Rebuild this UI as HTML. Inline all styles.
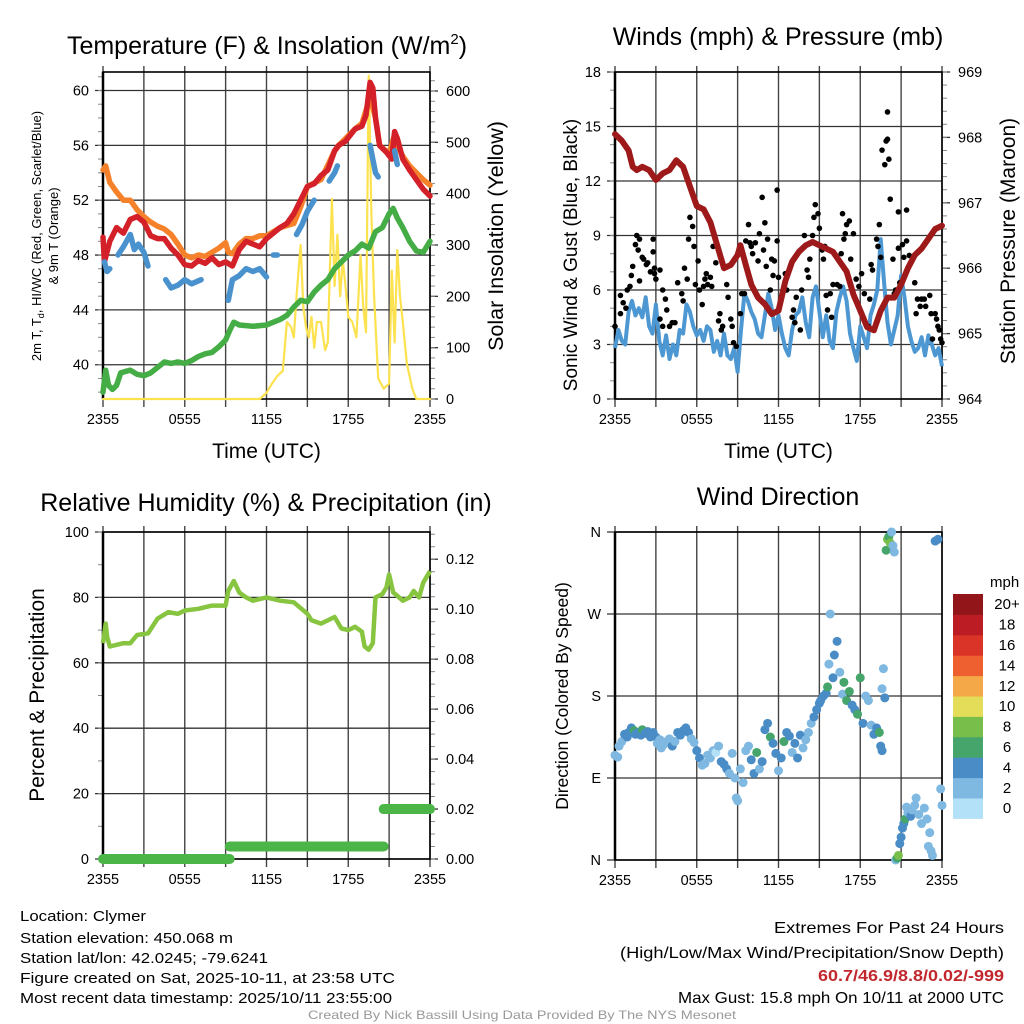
<!DOCTYPE html>
<html><head><meta charset="utf-8"><style>
html,body{margin:0;padding:0;background:#fff}
svg{display:block;font-family:"Liberation Sans",Arial,sans-serif}
</style></head><body>
<svg id="fig" width="1024" height="1024" viewBox="0 0 1024 1024" xmlns="http://www.w3.org/2000/svg">
<rect width="1024" height="1024" fill="#fff"/>
<g id="g-tl"></g>
<g id="g-tr"></g>
<g id="g-bl"></g>
<g id="g-br"></g>
<text x="267" y="54" font-size="25" text-anchor="middle">Temperature (F) &amp; Insolation (W/m<tspan dy="-10" font-size="15">2</tspan><tspan dy="10">)</tspan></text>
<text x="778" y="45" font-size="25" text-anchor="middle">Winds (mph) &amp; Pressure (mb)</text>
<text x="266" y="511" font-size="25" text-anchor="middle">Relative Humidity (%) &amp; Precipitation (in)</text>
<text x="778" y="505" font-size="25" text-anchor="middle">Wind Direction</text>
<g font-size="15" fill="#000">
<text x="20" y="921" textLength="126" lengthAdjust="spacingAndGlyphs">Location: Clymer</text>
<text x="20" y="943" textLength="213" lengthAdjust="spacingAndGlyphs">Station elevation: 450.068 m</text>
<text x="20" y="963" textLength="248" lengthAdjust="spacingAndGlyphs">Station lat/lon: 42.0245; -79.6241</text>
<text x="20" y="983" textLength="375" lengthAdjust="spacingAndGlyphs">Figure created on Sat, 2025-10-11, at 23:58 UTC</text>
<text x="20" y="1003" textLength="372" lengthAdjust="spacingAndGlyphs">Most recent data timestamp: 2025/10/11 23:55:00</text>
</g>
<g font-size="16" text-anchor="end">
<text x="1004" y="933" textLength="230" lengthAdjust="spacingAndGlyphs">Extremes For Past 24 Hours</text>
<text x="1004" y="958" textLength="384" lengthAdjust="spacingAndGlyphs">(High/Low/Max Wind/Precipitation/Snow Depth)</text>
<text x="1004" y="981" font-weight="bold" fill="#c1272d" textLength="186" lengthAdjust="spacingAndGlyphs">60.7/46.9/8.8/0.02/-999</text>
<text x="1004" y="1003" textLength="326" lengthAdjust="spacingAndGlyphs">Max Gust: 15.8 mph On 10/11 at 2000 UTC</text>
</g>
<text x="522" y="1019" font-size="12" fill="#999" text-anchor="middle" textLength="428" lengthAdjust="spacingAndGlyphs">Created By Nick Bassill Using Data Provided By The NYS Mesonet</text>
</svg>
<script>
// ---- Temperature panel data ----
const redT=[0,0.1,0.5,1,1.5,2,2.5,3,3.5,4,4.5,5,5.5,6,6.5,7,7.5,8,8.5,9,9.5,10,10.5,11,11.5,12,12.5,13,13.5,14,14.5,15,15.5,16,16.5,17,17.3,17.8,18.5,19,19.3,19.6,19.8,20,20.3,20.8,21.2,21.4,21.6,22,22.5,23,23.5,24];
const redV=[49.3,47.5,49,50,49.6,50.6,50.8,50.4,49.4,49.2,49.2,48.5,48,47.3,47.2,47.6,47.4,47.8,47.3,47.5,47.2,48.4,49,48.8,48.6,49.2,49.6,50,50.3,51,52,53,53.2,53.8,54.2,55.6,56,56.3,57.2,57.4,58.2,60.6,60.2,58,56,55.5,55,57,56.5,55,54.2,53.5,52.8,52.3];
const oraT=[0,0.2,0.5,1,1.5,2,2.5,3,3.5,4,4.5,5,5.5,6,6.5,7,7.5,8,8.5,9,9.2,9.5,10,10.5,11,11.5,12,13,14,14.5,15,16,17,17.3,18.5,19,19.6,20,20.3,21,21.4,21.6,22,22.5,23,23.5,24];
const oraV=[54.2,54.5,53.3,52.6,52,52,51.3,50.8,50.4,50.1,49.9,49.5,48.8,48,47.8,48,47.9,48.2,48.5,48.9,48.2,48.1,48.8,49.2,49.2,49.4,49.4,50,50.3,51.5,53,53.5,55.6,56,57.2,57.6,59.5,58,56,55.4,56.8,56,55.2,54.5,54,53.5,53.1];
const bluT=[0.1,0.3,0.5,null,1.1,1.5,2,2.3,2.6,3,3.3,null,4.6,5,5.5,6,6.5,7.2,null,9.2,9.5,10,10.5,11,11.5,12,null,12.5,12.8,null,14.2,14.6,15,15.5,null,16.6,17,17.2,null,19.6,19.8,20,20.2,null,21.4,21.6];
const bluV=[47.5,46.8,47,null,48,48.6,49.5,48.4,48.8,48.2,47.2,null,46.2,45.6,45.8,46.2,45.9,46.2,null,44.7,46.2,46.5,47,46.8,47,46.4,null,48,48,null,49.5,50.2,51.2,52,null,53.4,54,54.5,null,56,55,54,53.7,null,55.6,54.6];
const grnT=[0,0.2,0.4,0.7,1,1.3,1.6,2,2.5,3,3.5,4,4.5,5,5.5,6,6.5,7,7.5,8,8.5,9,9.3,9.6,10,11,12,12.5,13,13.5,14,14.5,15,15.5,16,16.5,17,17.5,18,18.5,19,19.5,20,20.5,21,21.3,21.6,22,22.5,23,23.5,24];
const grnV=[38,39.6,38.5,38.2,38.5,39.4,39.5,39.6,39.3,39.2,39.4,39.8,40.2,40.1,40.2,40.1,40.3,40.6,40.8,40.9,41.3,41.8,42.5,43.1,42.9,42.8,42.9,43.1,43.3,43.6,44.2,44.7,44.6,45.3,45.8,46.2,47,47.5,48,48.3,48.8,48.5,49.7,50,51,51.4,50.7,50,49,48.3,48.2,49];
const solT=[0,11.5,12,12.4,12.8,13.2,13.5,13.8,14,14.2,14.5,14.7,14.9,15.1,15.3,15.5,15.7,16,16.3,16.5,16.8,17,17.2,17.4,17.6,17.8,18,18.3,18.6,18.9,19.1,19.3,19.5,19.7,19.9,20.2,20.6,21,21.2,21.4,21.6,21.8,22,22.3,22.7,23,24];
const solV=[0,0,12,30,45,55,150,140,120,200,300,180,140,120,160,100,150,150,95,110,390,220,320,200,270,220,160,150,120,280,180,130,630,360,200,40,20,30,250,110,290,200,150,70,20,0,0];
// ---- Wind/pressure data ----
const presT=[0,0.5,1,1.3,1.6,2,2.5,3,3.5,4,4.5,5,5.5,6,6.5,7,7.5,8,8.5,9,9.2,9.6,10,10.5,11,11.5,12,12.5,13,13.5,14,14.5,15,15.5,16,16.5,17,17.5,18,18.5,19,19.5,20,20.5,21,21.5,22,22.5,23,23.5,24];
const presV=[968.05,967.95,967.8,967.55,967.5,967.55,967.5,967.35,967.45,967.5,967.65,967.55,967.25,966.95,966.9,966.7,966.35,966,966.05,966.2,966.35,966.05,965.75,965.55,965.45,965.3,965.35,965.8,966.1,966.25,966.35,966.4,966.35,966.3,966.25,966.1,965.95,965.6,965.35,965.1,965.05,965.35,965.55,965.55,965.75,966,966.2,966.3,966.45,966.6,966.65];
const windT=[0,0.25,0.5,0.75,1,1.25,1.5,1.75,2,2.25,2.5,2.75,3,3.25,3.5,3.75,4,4.25,4.5,4.75,5,5.25,5.5,5.75,6,6.25,6.5,6.75,7,7.25,7.5,7.75,8,8.25,8.5,8.75,9,9.25,9.5,9.75,10,10.25,10.5,10.75,11,11.25,11.5,11.75,12,12.25,12.5,12.75,13,13.25,13.5,13.75,14,14.25,14.5,14.75,15,15.25,15.5,15.75,16,16.25,16.5,16.75,17,17.25,17.5,17.75,18,18.25,18.5,18.75,19,19.25,19.5,19.75,20,20.25,20.5,20.75,21,21.25,21.5,21.75,22,22.25,22.5,22.75,23,23.25,23.5,23.75,24];
const windV=[2.8,3.8,3.2,3,4.8,5.4,4.6,5,4.5,5.6,4,3.6,5.2,3.2,2.4,3.5,2.2,3,2.4,3.8,3.6,5.2,4.8,4,3.5,3.8,3.2,4,3.8,2.6,3.2,2.4,3.6,2.4,2.2,2.8,1.5,3.8,5.8,5.4,4.8,4.4,3.6,3.4,4.6,5.8,5,3.8,4.6,3.6,2.8,2.4,3.8,4.6,4.8,5.6,4.2,3.4,5.6,6.2,4.8,3.4,4.6,3.2,2.8,4.8,5.6,6.2,5.4,3.6,2.8,2.1,4,3.4,2.8,4.6,5.2,6,8.8,6.4,4.2,3,3.8,4.6,6.8,5.6,4,3.2,2.6,2.8,3.4,2.4,3.5,3,2.4,2.8,1.8];
const gustT=[0,0.4,0.4,0.6,0.8,0.9,1.1,1.2,1.3,1.5,1.6,1.7,1.8,2,1.8,2.1,2.3,2.4,2.6,2.8,2.8,2.9,3,2.9,3.3,3.3,3.5,3.7,3.8,3.5,4,4.2,4.4,4.6,4.9,5,5.1,5.3,5.4,5.5,5.7,5.8,5.9,6.1,6.2,6.4,6.5,6.6,6.7,6.8,7,7.1,7.2,7.4,7.6,7.7,7.8,7.9,8.2,8.3,8.5,8.6,8.7,8.9,9.2,9.3,9.5,9.6,9.8,9.9,10,10.1,10.3,10.5,10.6,10.8,10.9,11,11.1,11.2,11.4,11.5,11.6,11.7,11.9,11.9,12,12.5,12.6,13,13.1,13.2,13.3,13.6,13.7,13.9,14.1,14.2,14.3,14.5,14.6,14.7,14.9,15,15.2,15.3,15.4,15.5,15.6,15.8,15.9,16,16.3,16.5,16.6,16.7,16.8,16.9,17,17.2,17.3,17.5,17.7,17.9,18.1,18.3,18.6,18.7,18.8,18.9,19.2,19.3,19.4,19.5,19.6,19.8,19.9,20,20,20.1,20.2,20.4,20.5,20.6,20.8,20.8,20.9,21.1,21.2,21.4,21.4,21.6,21.7,21.9,22,22.1,22.2,22.4,22.5,22.7,22.8,23.1,23.2,23.3,23.5,23.6,23.7,23.8,23.9,24];
const gustV=[4,4.7,5.7,5.3,5,6,6.2,6.8,7.3,8.5,9,8.2,8.8,7.8,6.5,7.7,7.4,7.5,7,8.8,8.1,7.2,6.6,6.9,7.1,4.4,6,5.5,4.9,4,4,4.2,4.2,6.4,5.8,5.4,7.2,6.6,8.8,10,9.5,8.4,6.3,7.6,6,5.2,6.2,6.6,6.9,6.3,6.7,6.2,8.4,7.5,4.3,4.7,3.8,4,6.3,5.6,4.4,4,3.1,2.9,4.7,5.8,5.8,8.7,9.6,8.6,8.4,8,8.6,7.6,9.1,11.1,8.2,9.7,7.3,8.8,6,7.7,6.8,7.6,8.7,11.5,6.7,6.9,6,4.5,4.9,4.2,5.6,3.8,6,9,7.1,6.7,7.7,9,10,10.7,10.2,9.4,8.2,7.7,8.4,5.7,4.9,5.8,4.5,6.3,6.3,6.2,8,10.2,8.8,9.1,9.6,9.8,7.7,9.1,6.6,6.2,6.9,5.8,4,5.5,7.4,7.1,8.8,8.4,9.6,7.8,13.7,12.9,14.2,14.3,15.8,13.2,11,7.7,5.8,6,8.3,10.3,6.4,8.5,7.8,8.7,10.4,7.9,7.5,7.8,6.4,4.7,5.5,5.1,5.5,5.5,5.1,5.7,4.7,3.3,4.7,4.4,4,3.8,3.3,3.1];
// ---- RH / precip data ----
const rhT=[0,0.2,0.3,0.5,1,1.5,2,2.5,3.3,4,4.8,5.5,6,7,8,9,9.2,9.6,10,10.5,11,12,13,14,15,15.3,16,17,17.5,18,18.5,19,19.2,19.5,19.8,20,20.5,20.8,21,21.3,21.6,22,22.5,22.8,23.2,23.5,24];
const rhV=[66,72,68,65,65.5,66,66,68.5,69,73.5,75.5,75,76,76.5,77.5,77.5,82,85,81.5,80,79,80,79,78.5,75,73,72,74,70.5,70,71,69.5,65,64,66,80,81,83,87,81.5,80.5,79,80,82,80,84.5,88];
const precT=[0,9.3,9.3,20.6,20.6,24];
const precV=[0,0,0.005,0.005,0.02,0.02];
// ---- Wind direction data ----
const dirT=[0,0.2,0.3,0.5,0.7,0.9,1,1.2,1.4,1.5,1.7,1.9,2,2.2,2.4,2.6,2.8,3,3.1,3.3,3.4,3.6,3.8,4,4.2,4.4,4.6,4.8,5,5.2,5.4,5.6,5.8,6,6.2,6.4,6.6,6.8,7,7.2,7.4,7.6,7.8,8,8.2,8.4,8.6,8.8,8.9,9,9.2,9.4,9.6,9.8,10,10.2,10.4,10.6,10.8,11,11.2,11.4,11.6,11.8,12,12.2,12.4,12.6,12.8,13,13.2,13.4,13.6,13.8,14,14.2,14.4,14.6,14.8,15,15.1,15.3,15.5,15.6,15.7,15.8,16,16.1,16.3,16.5,16.7,16.8,17,17.2,17.4,17.6,17.8,18,18.2,18.4,18.6,18.8,19,19.2,19.4,19.5,19.6,19.6,19.7,19.8,19.9,20,20.1,20.2,20.3,20.4,20.5,20.6,20.7,20.8,20.9,21,21.1,21.2,21.3,21.4,21.5,21.7,21.8,22,22.1,22.3,22.5,22.7,22.9,23,23.1,23.2,23.3,23.5,23.7,23.9,24];
const dirV=[115,113,125,130,138,135,140,145,142,138,140,137,143,139,141,135,140,135,128,132,123,127,130,133,125,130,140,137,142,145,140,133,129,120,112,104,106,115,112,120,118,125,108,105,100,95,117,90,68,65,100,85,120,125,110,95,118,100,108,143,150,135,128,117,98,112,130,140,136,118,128,112,137,123,132,140,150,157,165,172,175,180,183,190,215,270,200,225,240,206,182,195,175,185,170,165,160,200,150,180,175,148,138,145,140,125,120,188,210,178,340,352,355,348,360,345,338,0,2,5,18,25,35,40,45,58,52,48,55,60,68,50,40,57,45,15,30,10,5,350,352,78,60,40,55,62,70,95,110];
const dirS=[3,3,3,3,4,4,4,4,6,4,4,4,6,4,4,4,4,4,3,3,3,3,3,3,4,3,4,4,4,4,4,3,3,4,4,3,3,3,3,3,1,3,4,4,4,3,3,2,2,2,3,2,3,3,4,4,6,3,4,4,4,6,4,4,3,4,6,4,4,3,4,4,4,3,2,3,3,4,4,4,4,4,4,6,2,2,4,4,4,3,3,6,6,6,4,4,6,6,4,3,3,3,4,4,6,4,4,3,3,4,6,8,6,8,3,3,3,2,6,8,4,4,4,4,6,3,2,4,3,3,3,3,3,2,2,2,2,3,2,4,4,3,2,2,3,3,2,2,3,3];
const binCol=["#b3e1f7","#7fb8e1","#4a8dc6","#45a56b","#78be4b","#e3dd5a","#f5a847","#ee6030","#da3328","#bc1c24","#921619"];
const binLab=["0","2","4","6","8","10","12","14","16","18","20+"];

const NS="http://www.w3.org/2000/svg";
function el(p,tag,attrs){const e=document.createElementNS(NS,tag);for(const k in attrs)e.setAttribute(k,attrs[k]);p.appendChild(e);return e;}
function lin(d0,d1,r0,r1){return v=>r0+(v-d0)/(d1-d0)*(r1-r0);}
function pathD(ts,vs,sx,sy){let d="",pen=false;for(let i=0;i<ts.length;i++){if(ts[i]===null||vs[i]===null){pen=false;continue;}d+=(pen?"L":"M")+sx(ts[i]).toFixed(1)+","+sy(vs[i]).toFixed(1);pen=true;}return d;}
const xlabs=["2355","0555","1155","1755","2355"];

function frame(g,x0,x1,y0,y1,sx,hTicks,sy,lTicks,lMinor,lLab,sy2,rTicks,rMinor,rLab,showXTitle){
  for(let h=0;h<=24;h+=3){
    const ln=el(g,"line",{x1:sx(h),x2:sx(h),y1:y0-6,y2:y1+8,stroke:"#444","stroke-width":1.4});
    
    
  }
  xlabs.forEach((s,i)=>{
    const t=el(g,"text",{x:sx(i*6),y:y1+25,"font-size":14.5,"text-anchor":"middle"});t.textContent=s;
    
    
  });
  lTicks.forEach((v,i)=>{
    const y=sy(v);
    const ln=el(g,"line",{x1:x0-8,x2:x1,y1:y,y2:y,stroke:"#333","stroke-width":1.3});
    
    
    const t=el(g,"text",{x:x0-14,y:y+5,"font-size":14.5,"text-anchor":"end"});t.textContent=lLab[i];
    
    
  });
  lMinor.forEach(v=>{const y=sy(v);el(g,"line",{x1:x0-5,x2:x0,y1:y,y2:y,stroke:"#888","stroke-width":1});});
  rTicks.forEach((v,i)=>{
    const y=sy2(v);
    el(g,"line",{x1:x1,x2:x1+8,y1:y,y2:y,stroke:"#333","stroke-width":1.3});
    const t=el(g,"text",{x:x1+16,y:y+5,"font-size":14.5});t.textContent=rLab[i];
    
    
  });
  rMinor.forEach(v=>{const y=sy2(v);if(y>=y0&&y<=y1)el(g,"line",{x1:x1,x2:x1+5,y1:y,y2:y,stroke:"#888","stroke-width":1});});
  const b=el(g,"rect",{x:x0,y:y0,width:x1-x0,height:y1-y0,fill:"none",stroke:"#000","stroke-width":1.6});
  
  
  el(g,"line",{x1:x0,x2:x0,y1:y0,y2:y1,stroke:"#000","stroke-width":2.5});
  if(showXTitle){
    const t=el(g,"text",{x:(x0+x1)/2,y:y1+59,"font-size":21,"text-anchor":"middle"});t.textContent="Time (UTC)";
    
    
  }
}
function range(a,b,s){const r=[];for(let v=a;v<=b+1e-9;v+=s)r.push(+v.toFixed(4));return r;}
function vlabel(g,x,y,txt,size,name){
  const t=el(g,"text",{x:0,y:0,"font-size":size,"text-anchor":"middle",transform:`translate(${x},${y}) rotate(-90)`});
  t.textContent=txt;
  
  
  return t;
}

// ===== Top-left =====
(function(){
  const g=document.getElementById("g-tl");
  const x0=103,x1=430,y0=72,y1=399;
  const sx=lin(0,24,x0,x1), sy=lin(37.5,61.35,y1,y0), sy2=lin(0,637,y1,y0);
  frame(g,x0,x1,y0,y1,sx,null,sy,[40,44,48,52,56,60],range(38,61,1),["40","44","48","52","56","60"],sy2,[0,100,200,300,400,500,600],range(0,637,20),["0","100","200","300","400","500","600"],true);
  const defs=[[solT,solV,"#fde24f",2.2,sy2,"solar-insolation-line"],[grnT,grnV,"#45ad45",5.5,sy,"dewpoint-line"],[oraT,oraV,"#f5822a",5.5,sy,"temp-9m-line"],[redT,redV,"#d42028",5.5,sy,"temp-2m-line"],[bluT,bluV,"#4a92cd",5.5,sy,"heat-index-windchill-line"]];
  defs.forEach(d=>{
    const p=el(g,"path",{d:pathD(d[0],d[1],sx,d[4]),fill:"none",stroke:d[2],"stroke-width":d[3],"stroke-linejoin":"round","stroke-linecap":"round"});
    
    
  });
  const t=el(g,"text",{x:0,y:0,"font-size":13,"text-anchor":"middle",transform:"translate(41,236) rotate(-90)"});
  t.innerHTML='2m T, T<tspan font-size="9" dy="3">d</tspan><tspan dy="-3">, HI/WC (Red, Green, Scarlet/Blue)</tspan>';
  
  
  vlabel(g,58,236,"& 9m T (Orange)",13,"left-axis-title-line2");
  vlabel(g,503,236,"Solar Insolation (Yellow)",21.5,"right-axis-title");
})();

// ===== Top-right =====
(function(){
  const g=document.getElementById("g-tr");
  const x0=615,x1=942,y0=72,y1=399;
  const sx=lin(0,24,x0,x1), sy=lin(0,18,y1,y0), sy2=lin(964,969,y1,y0);
  frame(g,x0,x1,y0,y1,sx,null,sy,[0,3,6,9,12,15,18],range(0,18,1),["0","3","6","9","12","15","18"],sy2,[964,965,966,967,968,969],range(964,969,0.2),["964","965","966","967","968","969"],true);
  const w=el(g,"path",{d:pathD(windT,windV,sx,sy),fill:"none",stroke:"#4d98d3","stroke-width":4,"stroke-linejoin":"round"});
  
  
  gustT.forEach((h,i)=>{
    const c=el(g,"circle",{cx:sx(h),cy:sy(gustV[i]),r:2.8,fill:"#000"});
    
    
  });
  const p=el(g,"path",{d:pathD(presT,presV,sx,sy2),fill:"none",stroke:"#9e1a1a","stroke-width":6,"stroke-linejoin":"round","stroke-linecap":"round"});
  
  
  vlabel(g,577,255,"Sonic Wind & Gust (Blue, Black)",19,"left-axis-title");
  vlabel(g,1015,241,"Station Pressure (Maroon)",21,"right-axis-title");
})();

// ===== Bottom-left =====
(function(){
  const g=document.getElementById("g-bl");
  const x0=103,x1=430,y0=532,y1=859;
  const sx=lin(0,24,x0,x1), sy=lin(0,100,y1,y0), sy2=lin(0,0.1309,y1,y0);
  frame(g,x0,x1,y0,y1,sx,null,sy,[0,20,40,60,80,100],range(0,100,10),["0","20","40","60","80","100"],sy2,[0,0.02,0.04,0.06,0.08,0.1,0.12],range(0,0.13,0.005),["0.00","0.02","0.04","0.06","0.08","0.10","0.12"],false);
  const r=el(g,"path",{d:pathD(rhT,rhV,sx,sy),fill:"none",stroke:"#87c540","stroke-width":4.5,"stroke-linejoin":"round"});
  
  
  for(let i=0;i<precT.length;i+=2){
    const s=el(g,"line",{x1:sx(precT[i]),x2:sx(precT[i+1]),y1:sy2(precV[i]),y2:sy2(precV[i+1]),stroke:"#4bb548","stroke-width":10,"stroke-linecap":"round"});
    
    
  }
  vlabel(g,44,695,"Percent & Precipitation",21,"left-axis-title");
})();

// ===== Bottom-right =====
(function(){
  const g=document.getElementById("g-br");
  const x0=615,x1=942,y0=532,y1=860;
  const sx=lin(0,24,x0,x1), sy=lin(0,360,y1,y0);
  frame(g,x0,x1,y0,y1,sx,null,sy,[0,90,180,270,360],[],["N","E","S","W","N"],sy,[],[],[],false);
  dirT.forEach((h,i)=>{
    const b=Math.min(10,Math.floor(dirS[i]/2));
    const c=el(g,"circle",{cx:sx(h),cy:sy(dirV[i]),r:4.5,fill:binCol[b]});
    
    
  });
  vlabel(g,568,696,"Direction (Colored By Speed)",17.5,"left-axis-title");
  const lg=el(g,"g",{});
  
  
  const t=el(lg,"text",{x:990,y:587,"font-size":15});t.textContent="mph";
  const bh=20.4;
  for(let i=0;i<11;i++){
    const y=594+(10-i)*bh;
    const rc=el(lg,"rect",{x:953,y:y,width:30,height:bh+0.5,fill:binCol[i]});
    
    
    const tt=el(lg,"text",{x:1007,y:y+bh/2+5,"font-size":15,"text-anchor":"middle"});tt.textContent=binLab[i];
    
    
  }
})();
</script>
</body></html>
